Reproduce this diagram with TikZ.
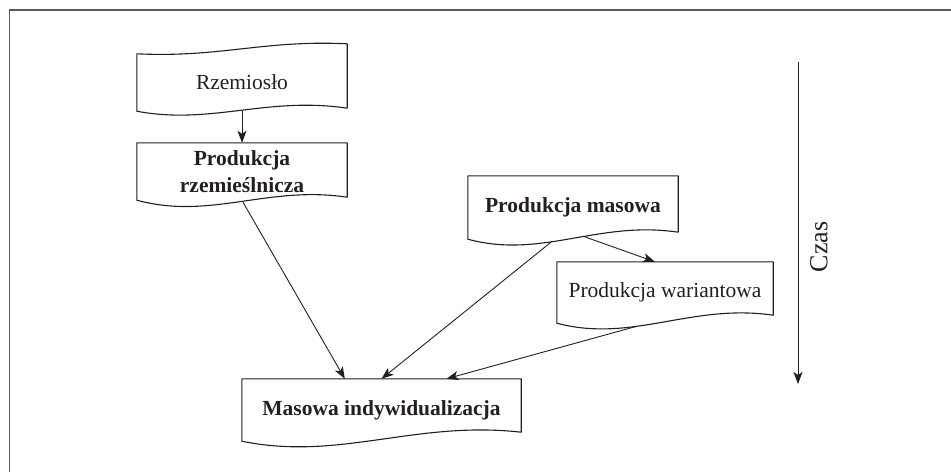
\documentclass[tikz,border=0pt]{standalone}
\usepackage{fontspec}
\setmainfont{Liberation Serif}
\usetikzlibrary{arrows.meta,calc}
\definecolor{ink}{HTML}{231F20}
\definecolor{framegray}{HTML}{5A5A5A}
% outline of a "document" box: flat top, wavy bottom
\newcommand{\DocOutline}[2]{%
  \draw[boxline] (#1.south west) -- (#1.north west) -- (#1.north east) -- ($(#1.south east)+(0,-#2)$)
    .. controls ($(#1.south west)!0.62!(#1.south east)+(0,-#2-12)$)
    and ($(#1.south west)!0.35!(#1.south east)+(0,20)$) .. (#1.south west) -- cycle;}
\begin{document}
\begin{tikzpicture}[x=1pt,y=-1pt,
  boxline/.style={draw=ink,line width=1.1pt,line join=round},
  docnode/.style={draw=none,inner sep=0pt,text=ink,align=center,
    font=\fontsize{21.5}{27}\selectfont},
  boldnode/.style={docnode,font=\fontsize{21.5}{27}\selectfont\bfseries},
  conn/.style={draw=ink,line width=0.9pt,-{Stealth[length=12pt,width=9pt,inset=3pt]}}
]
\useasboundingbox (0,0) rectangle (951,472);
% frame
\draw[framegray,line width=1.6pt] (9.5,472) -- (9.5,10) -- (951,10);

% nodes
\node[docnode,minimum width=210pt,minimum height=57pt] (rz) at (242,82.5) {Rzemiosło};
\node[boldnode,minimum width=210pt,minimum height=57pt] (prz) at (242,171.5) {Produkcja\\rzemieślnicza};
\node[boldnode,minimum width=210pt,minimum height=63pt] (pm) at (573,207.5) {Produkcja masowa};
\node[docnode,minimum width=216pt,minimum height=61pt] (pw) at (665,292.5) {Produkcja wariantowa};
\node[boldnode,minimum width=279pt,minimum height=62pt] (mi) at (381.5,410) {Masowa indywidualizacja};

% outlines
\draw[boxline] (rz.south west) -- (rz.north west)
  .. controls ($(rz.north west)!0.4!(rz.north east)+(0,4)$) and ($(rz.north west)!0.6!(rz.north east)+(0,-14)$)
  .. ($(rz.north east)+(0,-10)$) -- ($(rz.south east)+(0,-3)$)
  .. controls ($(rz.south west)!0.62!(rz.south east)+(0,-15)$) and ($(rz.south west)!0.35!(rz.south east)+(0,14)$)
  .. (rz.south west) -- cycle;
\DocOutline{prz}{3}
\DocOutline{pm}{7}
\DocOutline{pw}{8}
\DocOutline{mi}{9}

% connectors
\draw[conn] (rz.south) -- (prz.north);
\draw[conn] ($(prz.south)+(1,2)$) -- ($(mi.north west)+(103,0)$);
\draw[conn] ($(pm.south)+(-22,3)$) -- (mi.north);
\draw[conn] ($(pm.south)+(10,-3)$) -- ($(pw.north)+(-10,0)$);
\draw[conn] ($(pw.south)+(-28,3)$) -- ($(mi.north)+(65,0)$);

% time axis
\coordinate (t0) at (798,62);
\coordinate (t1) at (798,384);
\draw[conn] (t0) -- (t1);
\node[text=ink,rotate=90,font=\fontsize{26}{30}\selectfont] (czas) at (819,247) {Czas};
\end{tikzpicture}
\end{document}
